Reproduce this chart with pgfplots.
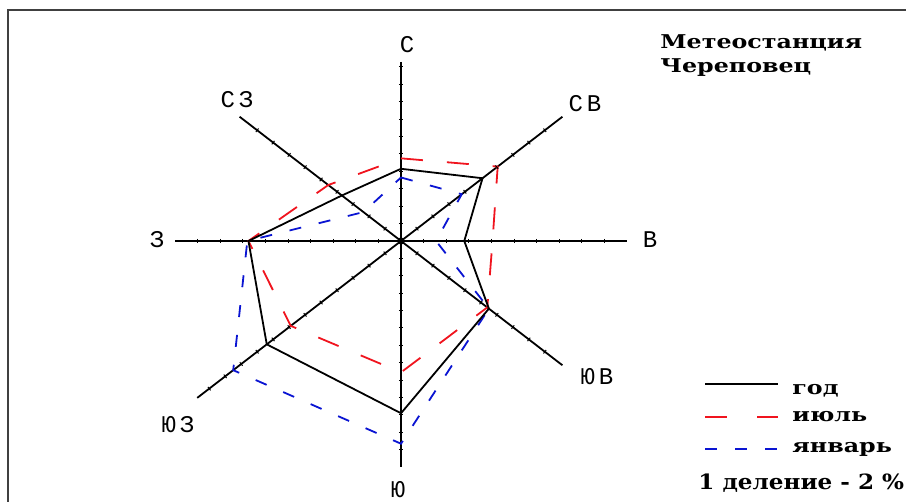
\documentclass[border=0pt]{standalone}
\usepackage{fontspec}
\usepackage{pgfplots}
\pgfplotsset{compat=1.18}
\usepgfplotslibrary{polar}
\setmainfont{DejaVu Serif}
\newfontfamily\dirfont{Liberation Mono}
\newfontfamily\wide{DejaVu Serif}[FakeStretch=1.25]
\newfontfamily\widenote{DejaVu Serif}[FakeStretch=1.1]

% wind rose, % of observations per direction (angle in deg, radius in %)
\pgfplotstableread{
a r
90 8.3
45 10.2
0 5.6
-45 11.0
-90 19.8
-135 16.8
180 13.5
135 7.4
90 8.3
}\year

\pgfplotstableread{
a r
90 9.5
45 12.1
0 8.1
-45 10.8
-90 15.1
-135 13.8
180 13.5
135 9.1
90 9.5
}\july

\pgfplotstableread{
a r
90 7.3
45 7.6
0 3.1
-45 11.0
-90 23.3
-135 21.0
180 13.6
135 4.7
90 7.3
}\january

\definecolor{jul}{RGB}{240,20,30}
\definecolor{jan}{RGB}{10,20,210}

\begin{document}
\begin{tikzpicture}[x=0.5pt,y=0.5pt]
\path[use as bounding box] (0,0) rectangle (906,502);
\begin{axis}[
    at={(0,0)}, anchor=south west,
    scale only axis, width=453pt, height=251pt,
    xmin=-35.487, xmax=44.690, ymin=-30.0, ymax=27.701,
    hide axis, clip=false,
    spoke/.style={black, line width=0.9pt, no marks, data cs=polar},
    tk/.style={only marks, mark=|, mark size=1.1pt, data cs=polar,
        mark options={black, line width=0.5pt, rotate=#1}},
]
% spokes
\addplot[spoke] coordinates {(180,20) (0,20)};
\addplot[spoke] coordinates {(90,20.6) (-90,26)};
\addplot[spoke] coordinates {(45,20.2) (-135,25.5)};
\addplot[spoke] coordinates {(135,20.2) (-45,20.2)};
% ticks, 1 division = 2 %
\addplot[tk=0] coordinates {(0,2)(0,4)(0,6)(0,8)(0,10)(0,12)(0,14)(0,16)(0,18)
    (180,2)(180,4)(180,6)(180,8)(180,10)(180,12)(180,14)(180,16)(180,18)};
\addplot[tk=90] coordinates {(90,2)(90,4)(90,6)(90,8)(90,10)(90,12)(90,14)(90,16)(90,18)(90,20)
    (-90,2)(-90,4)(-90,6)(-90,8)(-90,10)(-90,12)(-90,14)(-90,16)(-90,18)(-90,20)(-90,22)(-90,24)};
\addplot[tk=37.6] coordinates {(45,2)(45,4)(45,6)(45,8)(45,10)(45,12)(45,14)(45,16)(45,18)
    (-135,2)(-135,4)(-135,6)(-135,8)(-135,10)(-135,12)(-135,14)(-135,16)(-135,18)(-135,20)(-135,22)(-135,24)};
\addplot[tk=-37.6] coordinates {(135,2)(135,4)(135,6)(135,8)(135,10)(135,12)(135,14)(135,16)(135,18)
    (-45,2)(-45,4)(-45,6)(-45,8)(-45,10)(-45,12)(-45,14)(-45,16)(-45,18)};
\addplot[only marks, mark=*, mark size=1.6pt, black] coordinates {(0,0)};
% series
\addplot[jan, line width=0.9pt, dash pattern=on 6pt off 9pt, no marks, data cs=polar] table {\january};
\addplot[jul, line width=0.9pt, dash pattern=on 11pt off 12pt, no marks, data cs=polar] table {\july};
\addplot[black, line width=0.9pt, no marks, data cs=polar] table {\year};
\end{axis}

% frame
\draw[line width=1pt, black!75] (8,0) -- (8,492) -- (906,492);

% direction labels
\begin{scope}[font=\dirfont\fontsize{12pt}{12pt}\selectfont]
\node at (407,457) {С};
\node at (585,398) {С\,В};
\node at (650,262) {В};
\node at (597,125) {Ю\,В};
\node at (398,12) {Ю};
\node at (178,77) {Ю\,З};
\node at (157,262) {З};
\node at (237,402) {С\,З};
\end{scope}

% title
\begin{scope}[font=\wide\bfseries\fontsize{9.5pt}{11pt}\selectfont]
\node[anchor=base west, inner sep=0pt] at (660,453) {Метеостанция};
\node[anchor=base west, inner sep=0pt] at (660,429) {Череповец};
% legend
\draw[black, line width=0.9pt] (705,118) -- (778,118);
\draw[jul, line width=0.9pt, dash pattern=on 11pt off 15pt] (705,85) -- (778,85);
\draw[jan, line width=0.9pt, dash pattern=on 6pt off 9pt] (705,53) -- (778,53);
\node[anchor=base west, inner sep=0pt] at (792,107) {год};
\node[anchor=base west, inner sep=0pt] at (792,80) {июль};
\node[anchor=base west, inner sep=0pt] at (792,49) {январь};
\end{scope}
\node[anchor=base west, inner sep=0pt, font=\widenote\bfseries\fontsize{10.5pt}{12pt}\selectfont] at (698,12) {1 деление - 2 \%};
\end{tikzpicture}
\end{document}
